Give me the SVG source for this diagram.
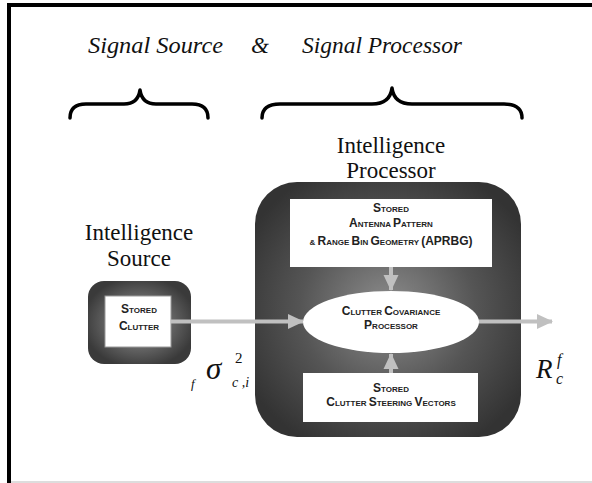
<svg xmlns="http://www.w3.org/2000/svg" width="592" height="483" viewBox="0 0 592 483">
<style>
.script{font-style:italic;font-size:23px;fill:#111}
.title{font-size:23px;fill:#111;text-anchor:middle}
.sc{font-family:'Liberation Sans',Arial,sans-serif;font-weight:bold;fill:#222;text-anchor:middle}
.L{font-size:12px}
.s{font-size:8px}
.math{font-style:italic;fill:#111}
.up{font-style:normal}
.conn{stroke:#c0c0c0;stroke-width:4;fill:none}
.brace{stroke:#000;stroke-width:3.5;fill:none;stroke-linecap:round;stroke-linejoin:round}
</style>
<defs>
<radialGradient id="gBig" cx="0.5" cy="0.5" r="0.6">
<stop offset="0" stop-color="#8e8e8e"/>
<stop offset="0.55" stop-color="#555"/>
<stop offset="1" stop-color="#333"/>
</radialGradient>
<radialGradient id="gSmall" cx="0.5" cy="0.5" r="0.55">
<stop offset="0" stop-color="#9a9a9a"/>
<stop offset="0.55" stop-color="#666"/>
<stop offset="1" stop-color="#3a3a3a"/>
</radialGradient>
<marker id="ah" markerWidth="16" markerHeight="16" refX="15" refY="8" orient="auto" markerUnits="userSpaceOnUse">
<path d="M0,0.5 L16,8 L0,15.5 Z" fill="#c0c0c0"/>
</marker>
</defs>
<rect width="592" height="483" fill="#fff"/>
<g id="frame">
<rect x="7" y="3" width="585" height="4" fill="#000"/>
<rect x="7" y="3" width="4" height="480" fill="#000"/>
<rect x="11" y="481" width="581" height="2" fill="#ddd"/>
</g>
<g id="headings" font-family="Liberation Serif, serif">
<text class="script" x="88" y="53" textLength="135" lengthAdjust="spacingAndGlyphs">Signal Source</text>
<text class="script" x="251" y="53">&amp;</text>
<text class="script" x="302" y="53" textLength="160" lengthAdjust="spacingAndGlyphs">Signal Processor</text>
<path class="brace" d="M70,118 Q70,104 86,104 L124,104 Q138,104 140,90 Q142,104 156,104 L192,104 Q208,104 208,118"/>
<path class="brace" d="M262,118 Q262,104 280,104 L372,104 Q390,104 392,88 Q394,104 412,104 L504,104 Q522,104 522,118"/>
<text class="title" x="391" y="153">Intelligence</text>
<text class="title" x="391" y="178">Processor</text>
<text class="title" x="139" y="240">Intelligence</text>
<text class="title" x="139" y="266">Source</text>
</g>
<g id="sigma-label" font-family="Liberation Serif, serif">
<text class="math" x="191" y="388" font-size="13">f</text>
<text class="math" x="206" y="379" font-size="31">σ</text>
<text class="math up" x="235" y="363" font-size="15">2</text>
<text class="math" x="232" y="387" font-size="14">c ,i</text>
</g>
<g id="intelligence-source">
<rect x="88" y="281" width="103" height="83" rx="16" fill="url(#gSmall)"/>
<rect x="105" y="296" width="66" height="51" fill="#fff" stroke="#999" stroke-width="1"/>
<text class="sc" x="139" y="313"><tspan class="L">S</tspan><tspan class="s">TORED</tspan></text>
<text class="sc" x="139" y="330"><tspan class="L">C</tspan><tspan class="s">LUTTER</tspan></text>
</g>
<g id="intelligence-processor">
<rect x="255" y="182" width="266" height="255" rx="42" fill="url(#gBig)"/>
</g>
<g id="connectors">
<line class="conn" x1="171" y1="321.5" x2="303" y2="321.5" marker-end="url(#ah)"/>
<line class="conn" x1="478" y1="321.5" x2="552" y2="321.5" marker-end="url(#ah)"/>
<line class="conn" x1="391" y1="267" x2="391" y2="290" stroke-width="5" marker-end="url(#ah)"/>
<line class="conn" x1="391" y1="373" x2="391" y2="354" stroke-width="5" marker-end="url(#ah)"/>
</g>
<g id="aprbg">
<rect x="290" y="199" width="202" height="68" fill="#fff"/>
<text class="sc" x="391" y="212"><tspan class="L">S</tspan><tspan class="s">TORED</tspan></text>
<text class="sc" x="391" y="227"><tspan class="L">A</tspan><tspan class="s">NTENNA </tspan><tspan class="L">P</tspan><tspan class="s">ATTERN</tspan></text>
<text class="sc" x="391" y="245"><tspan class="s">&amp; </tspan><tspan class="L">R</tspan><tspan class="s">ANGE </tspan><tspan class="L">B</tspan><tspan class="s">IN </tspan><tspan class="L">G</tspan><tspan class="s">EOMETRY </tspan><tspan class="L">(APRBG)</tspan></text>
</g>
<g id="clutter-covariance-processor">
<ellipse cx="391" cy="322" rx="88" ry="31" fill="#fff"/>
<text class="sc" x="391" y="315"><tspan class="L">C</tspan><tspan class="s">LUTTER </tspan><tspan class="L">C</tspan><tspan class="s">OVARIANCE</tspan></text>
<text class="sc" x="391" y="329"><tspan class="L">P</tspan><tspan class="s">ROCESSOR</tspan></text>
</g>
<g id="steering-vectors">
<rect x="303" y="373" width="175" height="49" fill="#fff"/>
<text class="sc" x="391" y="392"><tspan class="L">S</tspan><tspan class="s">TORED</tspan></text>
<text class="sc" x="391" y="406"><tspan class="L">C</tspan><tspan class="s">LUTTER </tspan><tspan class="L">S</tspan><tspan class="s">TEERING </tspan><tspan class="L">V</tspan><tspan class="s">ECTORS</tspan></text>
</g>
<g id="output-label" font-family="Liberation Serif, serif">
<text class="math" x="536" y="378" font-size="27">R</text>
<text class="math" x="557" y="365" font-size="16">f</text>
<text class="math" x="556" y="384" font-size="16">c</text>
</g>
</svg>
